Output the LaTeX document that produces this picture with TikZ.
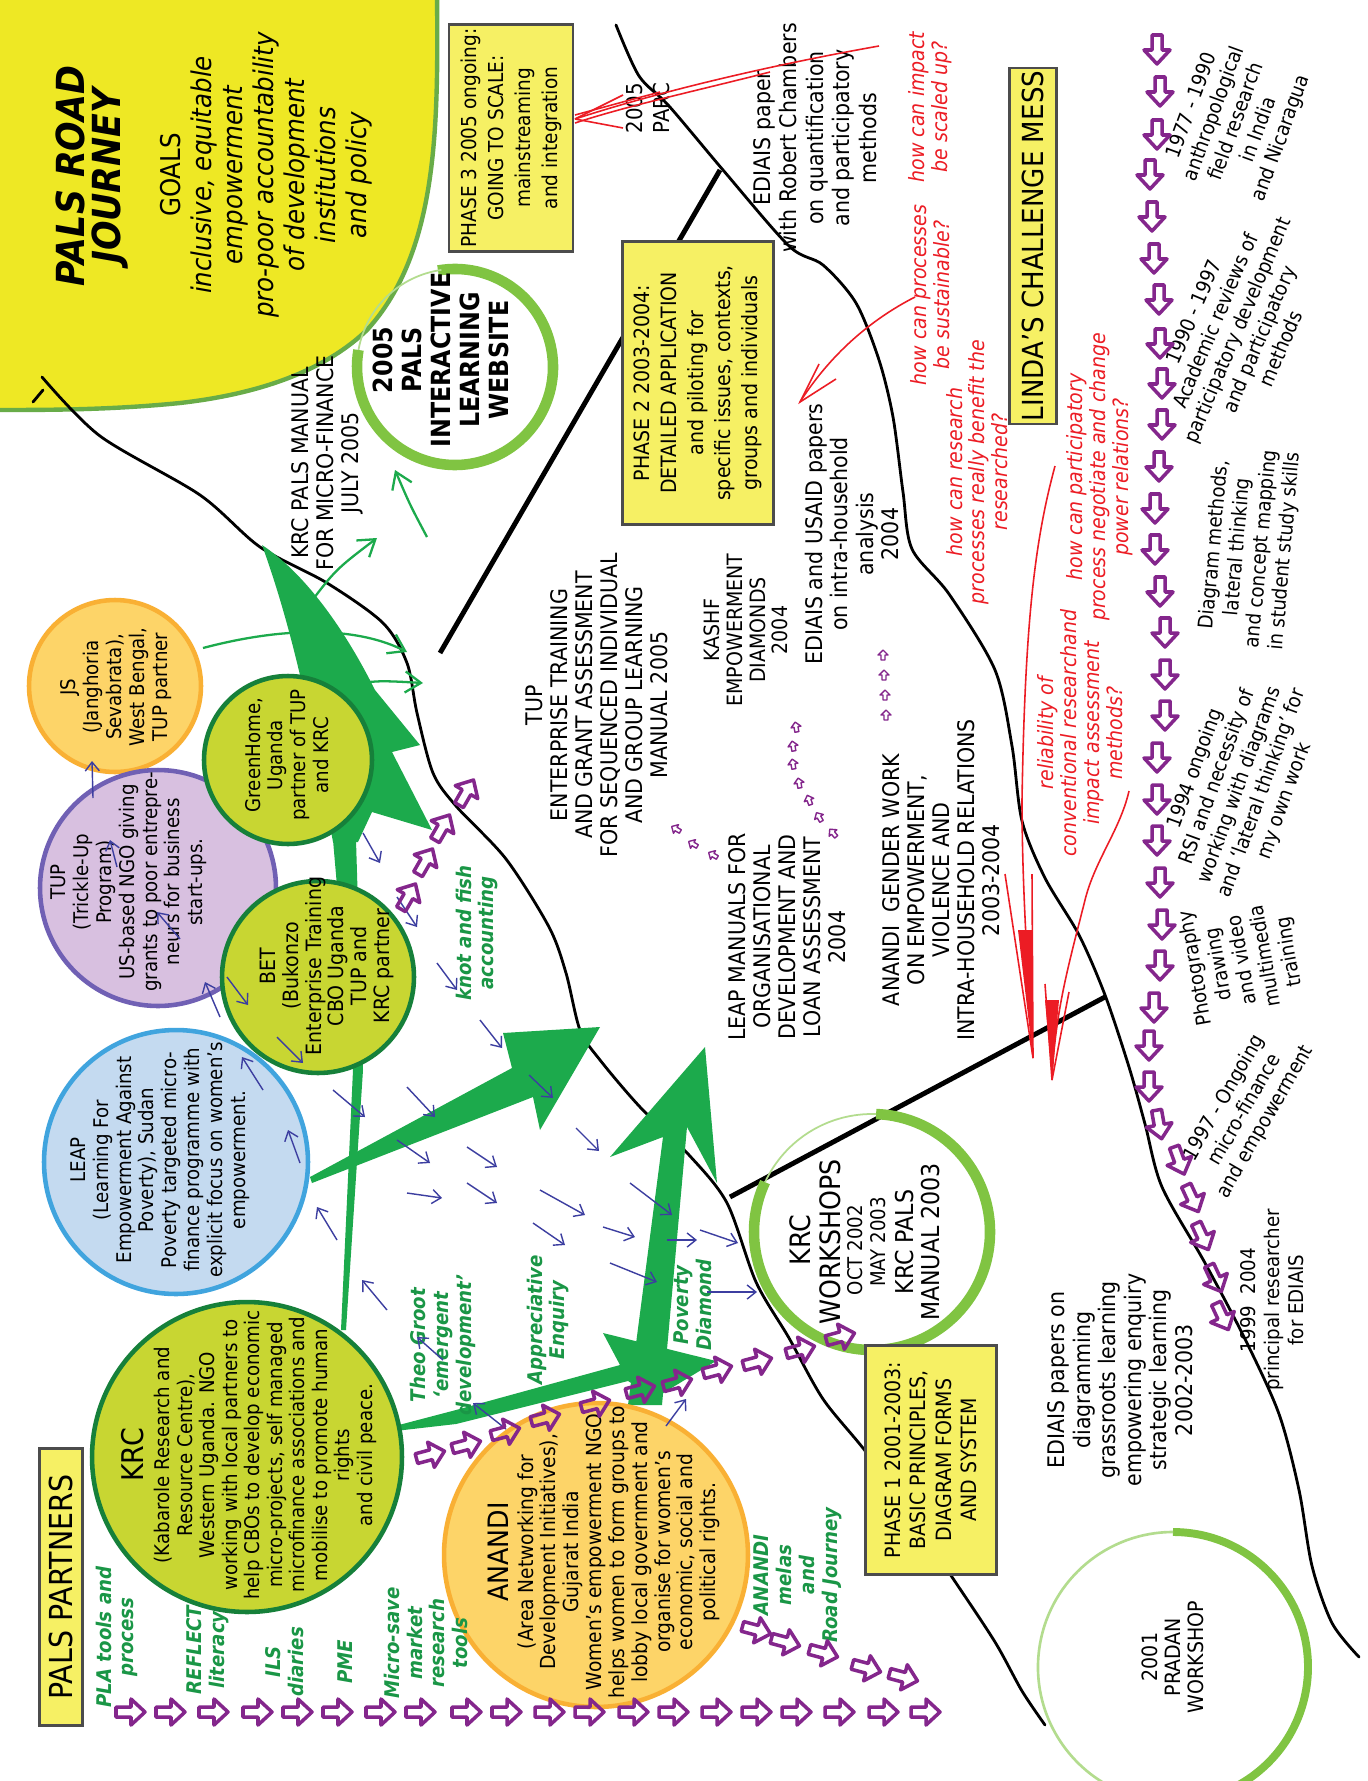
\documentclass[tikz,border=0pt]{standalone}
\usepackage{fontspec}
\setmainfont{DejaVu Sans}[FakeStretch=0.9]
\usetikzlibrary{arrows.meta,positioning}
\newcommand{\fsz}[2]{\fontsize{#1}{#2}\selectfont}
\definecolor{palsyellow}{RGB}{238,232,36}
\definecolor{boxyellow}{RGB}{246,240,100}
\definecolor{limefill}{RGB}{200,214,50}
\definecolor{darkrim}{RGB}{22,128,58}
\definecolor{orangefill}{RGB}{253,212,104}
\definecolor{orangerim}{RGB}{249,176,52}
\definecolor{lilacfill}{RGB}{216,192,224}
\definecolor{lilacrim}{RGB}{112,96,180}
\definecolor{skyfill}{RGB}{196,218,240}
\definecolor{skyrim}{RGB}{64,164,222}
\definecolor{arrowgreen}{RGB}{28,170,76}
\definecolor{ringgreen}{RGB}{128,196,66}
\definecolor{rimgreen}{RGB}{104,172,72}
\definecolor{journeypurple}{RGB}{132,38,140}
\definecolor{inkblue}{RGB}{60,62,160}
\definecolor{quesred}{RGB}{236,28,36}
\definecolor{labelgreen}{RGB}{26,150,70}

\begin{document}
\begin{tikzpicture}[x=0.02cm, y=-0.02cm,
    rot/.style={rotate=90, align=center, inner sep=0pt},
    txt/.style={rot, font=\fsz{13}{14.2}},
    tiltedtxt/.style={align=center, inner sep=0pt, font=\fsz{11.5}{13.5}},
    quest/.style={rot, text=quesred, font=\itshape\fsz{12}{13}},
    toollabel/.style={rot, text=labelgreen, font=\bfseries\itshape\fsz{11.5}{13}},
    circtext/.style={rot, font=\fsz{11.5}{13}},
    phasebox/.style={rot, draw=black!70, line width=1.2pt, fill=boxyellow},
    partner/.style={circle, line width=2.6pt, inner sep=0pt},
    road/.style={line width=1.6pt, line cap=round},
    roadbranch/.style={line width=2.8pt},
    thingreen/.style={draw=arrowgreen, line width=1.3pt, -{Straight Barb[length=9pt,width=12pt]}},
    inkarrow/.style={draw=inkblue, line width=0.8pt, -{Straight Barb[length=5pt,width=8pt]}},
    redline/.style={draw=quesred, line width=0.9pt},
    brushring/.style={draw=ringgreen, line width=6pt},
    faintring/.style={draw=ringgreen!60, line width=1pt},
    parr/.pic={\draw[journeypurple, line width=2pt, line join=round]
      (-14,-5) -- (1,-5) -- (1,-13) -- (15,0) -- (1,13) -- (1,5) -- (-14,5) -- cycle;},
    tparr/.pic={\draw[journeypurple, line width=0.8pt, line join=round]
      (-5,-2) -- (0,-2) -- (0,-5) -- (5,0) -- (0,5) -- (0,2) -- (-5,2) -- cycle;}
]
\useasboundingbox (0,0) rectangle (1368,1781);
\fill[white] (0,0) rectangle (1368,1781);
\clip (0,0) rectangle (1368,1781);

% goals blob
\filldraw[fill=palsyellow, draw=rimgreen, line width=2.5pt] (437,-10)
  .. controls (438,120) and (440,250) .. (367,330)
  .. controls (320,375) and (250,395) .. (180,403)
  .. controls (110,410) and (50,410) .. (-10,410) -- (-10,-10) -- cycle;

% the two roads
\draw[road] (33,402) -- (43,390);
\draw[road] plot[smooth] coordinates {(42,377) (100,436) (200,495) (260,547) (327,583) (383,623) (407,663) (417,713) (433,773) (456,806) (506,859) (549,927) (566,973) (580,1030) (600,1060) (640,1107) (689,1155) (727,1203) (756,1282) (789,1338) (823,1399) (866,1452) (910,1515) (952,1577) (995,1642) (1022,1691) (1045,1725)};
\draw[road] plot[smooth] coordinates {(616,25) (639,76) (669,106) (723,170) (789,246) (823,265) (856,303) (879,360) (893,417) (903,492) (912,549) (949,594) (995,670) (1012,746) (1022,821) (1045,878) (1079,935) (1105,995) (1129,1067) (1145,1124) (1162,1187) (1205,1263) (1245,1339) (1279,1414) (1299,1490) (1312,1566) (1332,1623) (1359,1657)};
\coordinate (fork2) at (720,170);
\coordinate (fork1) at (1105,997);
\coordinate (end2) at (440,653);
\coordinate (end1) at (730,1197);
\draw[roadbranch] (fork2) -- (end2);
\draw[roadbranch] (fork1) -- (end1);

% green arrows of the partners
\fill[arrowgreen] (262,545) .. controls (300,570) and (340,620) .. (375,690)
  -- (420,745) -- (392,752) -- (432,830) -- (372,812) -- (358,842) -- (333,842)
  .. controls (318,760) and (300,650) .. (262,545) -- cycle;
\fill[arrowgreen] (333,840) -- (356,840) -- (363,1070) -- (346,1330) -- (341,1330) -- (353,1070) -- cycle;
\fill[arrowgreen] (310,1177) -- (512,1068) -- (503,1033) -- (600,1027) -- (540,1130) -- (533,1097) -- (312,1183) -- cycle;
\fill[arrowgreen] (628,1405) -- (663,1137) -- (610,1157) -- (705,1047) -- (717,1183) -- (687,1127) -- (662,1405) -- cycle;
\fill[arrowgreen] (395,1426) -- (456,1410) -- (620,1365) -- (603,1333) -- (716,1361) -- (655,1398) -- (628,1381) -- (456,1424) -- (395,1431) -- cycle;
\draw[thingreen] (203,648) .. controls (290,625) and (360,628) .. (407,652);
\draw[thingreen] (330,692) .. controls (370,680) .. (423,683);
\draw[thingreen] (305,610) .. controls (335,570) .. (377,538);
\draw[thingreen] (427,537) .. controls (410,505) .. (395,470);

% partner circles
\node[partner, draw=orangerim, fill=orangefill, minimum size=3.44cm] (js) at (115,686) {};
\node[partner, draw=lilacrim, fill=lilacfill, minimum size=4.72cm] (tup) at (158,888) {};
\node[partner, draw=skyrim, fill=skyfill, minimum size=5.28cm] (leap) at (176,1162) {};
\node[partner, draw=darkrim, fill=limefill, minimum size=6.2cm] (krc) at (247,1457) {};
\node[partner, draw=darkrim, fill=limefill, minimum size=3.36cm] (greenhome) at (288,760) {};
\node[partner, draw=darkrim, fill=limefill, minimum size=3.84cm] (bet) at (318,977) {};
\node[partner, draw=orangerim, fill=orangefill, minimum size=6.08cm] (anandi) at (596,1555) {};

% workshop rings
\draw[brushring] (455,367) ++(-100:98) arc[start angle=-100, end angle=190, radius=98];
\draw[faintring] (455,367) ++(190:98) arc[start angle=190, end angle=262, radius=98];
\draw[brushring] (872,1232) ++(-88:118) arc[start angle=-88, end angle=205, radius=118];
\draw[faintring] (872,1232) ++(205:118) arc[start angle=205, end angle=272, radius=118];
\draw[brushring, line width=4.5pt] (1173,1667) ++(-90:135) arc[start angle=-90, end angle=100, radius=135];
\draw[faintring, line width=1.5pt] (1173,1667) ++(100:135) arc[start angle=100, end angle=270, radius=135];

% title and goals
\node[rot, font=\bfseries\itshape\fsz{22}{20.5}] (title) at (92,176) {PALS ROAD\\JOURNEY};
\node[rot, font=\itshape\fsz{15.5}{17.6}] (goals) at (266,175) {{\upshape GOALS}\\inclusive, equitable\\empowerment\\pro-poor accountability\\of development\\institutions\\and policy};
\node[rot, font=\bfseries\fsz{15}{16.5}] (website) at (441,360) {2005\\PALS\\INTERACTIVE\\LEARNING\\WEBSITE};
\node[txt] (krcmanual) at (327,463) {KRC PALS MANUAL\\FOR MICRO-FINANCE\\JULY 2005};

% phase boxes
\node[phasebox, minimum width=4.54cm, minimum height=2.48cm, font=\fsz{11.7}{15.4}] (phase3) at (511,138) {PHASE 3 2005 ongoing:\\GOING TO SCALE:\\mainstreaming\\and integration};
\node[phasebox, minimum width=5.66cm, minimum height=3.02cm, font=\fsz{12}{15.4}] (phase2) at (698,383) {PHASE 2 2003-2004:\\DETAILED APPLICATION\\and piloting for\\specific issues, contexts,\\groups and individuals};
\node[phasebox, minimum width=4.58cm, minimum height=2.62cm, font=\fsz{12}{14.5}] (phase1) at (931,1460) {PHASE 1 2001-2003:\\BASIC PRINCIPLES,\\DIAGRAM FORMS\\AND SYSTEM};
\node[phasebox, minimum width=7.12cm, minimum height=0.94cm, font=\fsz{16.5}{18}] (linda) at (1033,246) {LINDA'S CHALLENGE MESS};
\node[phasebox, minimum width=5.54cm, minimum height=0.86cm, font=\fsz{18}{20}] (partners) at (61,1587) {PALS PARTNERS};

% outputs along the road
\node[rot, font=\fsz{12.5}{15}] (parc) at (648,108) {2005\\PARC};
\node[txt, font=\fsz{13}{15}] (chambers) at (815,138) {EDIAIS paper\\with Robert Chambers\\on quantification\\and participatory\\methods};
\node[txt, font=\fsz{13}{14.5}] (usaid) at (852,534) {EDIAIS and USAID papers\\on intra-household\\analysis\\2004};
\node[txt] (tupmanual) at (597,705) {TUP\\ENTERPRISE TRAINING\\AND GRANT ASSESSMENT\\FOR SEQUENCED INDIVIDUAL\\AND GROUP LEARNING\\MANUAL 2005};
\node[txt, font=\fsz{12}{13}] (kashf) at (746,630) {KASHF\\EMPOWERMENT\\DIAMONDS\\2004};
\node[txt] (leapmanual) at (787,937) {LEAP MANUALS FOR\\ORGANISATIONAL\\DEVELOPMENT AND\\LOAN ASSESSMENT\\2004};
\node[txt] (gender) at (941,880) {ANANDI~~GENDER WORK\\ON EMPOWERMENT,\\VIOLENCE AND\\INTRA-HOUSEHOLD RELATIONS\\2003-2004};
\node[txt, font=\fsz{13}{14.5}] (diagpapers) at (1120,1380) {EDIAIS papers on\\diagramming\\grassroots learning\\empowering enquiry\\strategic learning\\2002-2003};
\node[rot, font=\fsz{12}{13}] (pradan) at (1173,1657) {2001\\PRADAN\\WORKSHOP};
\node[rot, font=\fsz{16}{17}] (kw1) at (800,1240) {KRC};
\node[rot, font=\fsz{16}{17}] (kw2) at (830,1242) {WORKSHOPS};
\node[rot, font=\fsz{11.5}{13}] (kw3) at (855,1250) {OCT 2002};
\node[rot, font=\fsz{11.5}{13}] (kw4) at (878,1242) {MAY 2003};
\node[rot, font=\fsz{14}{15}] (kw5) at (905,1242) {KRC PALS};
\node[rot, font=\fsz{14}{15}] (kw6) at (931,1242) {MANUAL 2003};

% questions
\node[quest] (q1) at (930,107) {how can impact\\be scaled up?};
\node[quest] (q2) at (930,295) {how can processes\\be sustainable?};
\node[quest] (q3) at (977,472) {how can research\\processes really benefit the\\researched?};
\node[quest] (q4) at (1100,477) {how can participatory\\process negotiate and change\\power relations?};
\node[quest] (q5) at (1080,733) {reliability of\\conventional researchand\\impact assessment\\methods?};

% Linda's timeline
\node[tiltedtxt, rotate=70] (t1) at (1237,122) {1977 - 1990\\anthropological\\field research\\in India\\and Nicaragua};
\node[tiltedtxt, rotate=67] (t2) at (1237,330) {1990 - 1997\\Academic reviews of\\participatory development\\and participatory\\methods};
\node[tiltedtxt, rotate=85] (t3) at (1250,548) {Diagram methods,\\lateral thinking\\and concept mapping\\in student study skills};
\node[tiltedtxt, rotate=70] (t4) at (1240,785) {1994 ongoing\\RSI and necessity of\\working with diagrams\\and `lateral thinking' for\\my own work};
\node[tiltedtxt, rotate=100] (t5) at (1243,960) {Photography\\drawing\\and video\\multimedia\\training};
\node[tiltedtxt, rotate=60] (t6) at (1245,1110) {1997 - Ongoing\\micro-finance\\and empowerment};
\node[tiltedtxt, rotate=90] (t7) at (1272,1300) {1999~~2004\\principal researcher\\for EDIAIS};

% partner texts
\node[circtext] (jst) at (116,687) {JS\\(Janghoria\\Sevabrata),\\West Bengal,\\TUP partner};
\node[circtext] (tupt) at (129,882) {TUP\\(Trickle-Up\\Program)\\US-based NGO giving\\grants to poor entrepre-\\neurs for business\\start-ups.};
\node[circtext] (leapt) at (160,1160) {LEAP\\(Learning For\\Empowerment Against\\Poverty), Sudan\\Poverty targeted micro-\\finance programme with\\explicit focus on women's\\empowerment.};
\node[circtext, font=\fsz{11.5}{12.8}] (krct) at (249,1455) {{\fsz{17}{19}KRC}\\[2pt](Kabarole Research and\\Resource Centre),\\Western Uganda. NGO\\working with local partners to\\help CBOs to develop economic\\micro-projects, self managed\\microfinance associations and\\mobilise to promote human\\rights\\and civil peace.};
\node[circtext] (greenhomet) at (287,755) {GreenHome,\\Uganda\\partner of TUP\\and KRC};
\node[circtext, font=\fsz{12}{13}] (bett) at (327,966) {BET\\(Bukonzo\\Enterprise Training\\CBO Uganda\\TUP and\\KRC partner};
\node[circtext, font=\fsz{11.8}{13}] (anandit) at (604,1552) {{\fsz{16}{18}ANANDI}\\[1pt](Area Networking for\\Development Initiatives),\\Gujarat India\\Women's empowerment NGO\\helps women to form groups to\\lobby local government and\\organise for women's\\economic, social and\\political rights.};

% tools
\node[toollabel] (pla) at (117,1637) {PLA tools and\\process};
\node[toollabel] (reflect) at (208,1650) {REFLECT\\literacy};
\node[toollabel] (ils) at (285,1662) {ILS\\diaries};
\node[toollabel] (pme) at (345,1662) {PME};
\node[toollabel] (microsave) at (426,1643) {Micro-save\\market\\research\\tools};
\node[toollabel] (knot) at (477,933) {knot and fish\\accounting};
\node[toollabel] (theo) at (443,1345) {Theo Groot\\`emergent\\development'};
\node[toollabel] (appreciative) at (548,1320) {Appreciative\\Enquiry};
\node[toollabel] (poverty) at (693,1305) {Poverty\\Diamond};
\node[toollabel] (melas) at (798,1575) {ANANDI\\melas\\and\\Road Journey};

% small blue arrows
\foreach \a/\b/\c/\d in {333/1090/365/1117, 407/1087/435/1117, 397/1140/430/1163, 407/1193/442/1198,
    467/1147/497/1167, 467/1183/497/1203, 337/1240/317/1207, 387/1310/362/1280, 263/1090/242/1057,
    300/1163/288/1130, 220/1017/205/982, 227/977/248/1005, 277/1037/303/1063, 437/963/457/990,
    480/1020/502/1048, 443/1360/417/1337, 363/833/380/863, 397/897/417/927, 93/798/92/761,
    529/1075/553/1098, 576/1128/599/1151, 540/1190/585/1215, 533/1223/565/1245, 603/1227/635/1237,
    630/1183/672/1215, 610/1263/657/1282, 667/1240/697/1240, 700/1230/738/1243, 707/1292/757/1292,
    506/1429/473/1403, 666/1426/686/1399, 117/867/110/840, 180/939/157/912}
  \draw[inkarrow] (\a,\b) -- (\c,\d);

% journey arrows
\foreach \x/\y/\r in {1157/49/-90, 1160/91/-90, 1157/134/-90, 1150/174/-90, 1152/216/-90,
    1154/258/-90, 1159/299/-90, 1160/343/-90, 1162/383/-90, 1162/424/-90, 1159/466/-90,
    1155/508/-90, 1155/549/-90, 1160/591/-90, 1165/632/-90, 1165/674/-90, 1165/715/-90,
    1157/757/-90, 1157/799/-90, 1157/840/-90, 1160/882/-90, 1162/924/-90, 1160/965/-90,
    1154/1007/-90, 1149/1045/-90, 1149/1086/-90, 1159/1124/-80, 1179/1160/-70,
    1192/1198/-65, 1202/1236/-65, 1215/1278/-65, 1222/1316/-65,
    430/1455/15, 466/1445/15, 505/1432/15, 545/1418/15, 595/1404/15, 640/1390/15,
    677/1383/15, 717/1370/15, 757/1362/15, 800/1350/15, 840/1337/15,
    756/1630/-15, 785/1642/-15, 823/1653/-15, 866/1668/-15, 903/1677/-15,
    408/897/60, 425/862/60, 442/828/60, 466/793/60}
  \pic[rotate=\r] at (\x,\y) {parr};
\foreach \x in {130,170,213,257,297,337,380,420,466,506,549,589,633,673,716,756,796,839,883,925}
  \pic at (\x,1712) {parr};
\foreach \x/\y/\r in {676/829/150, 693/844/150, 713/855/150,
    796/727/100, 793/746/100, 793/764/100, 799/783/100, 809/800/110, 819/817/120, 833/833/130,
    883/655/90, 884/675/90, 885/695/90, 886/715/90}
  \pic[rotate=\r] at (\x,\y) {tparr};

% red question arrows
\coordinate (scaleup) at (879,46);
\coordinate (ph3tip) at (575,119);
\draw[redline] (scaleup) .. controls (800,60) and (680,85) .. (ph3tip);
\draw[redline] (770,72) .. controls (700,90) and (630,105) .. (575,123);
\draw[redline] (660,92) .. controls (630,100) .. (575,115);
\draw[redline] (623,95) -- (ph3tip);
\draw[redline] (623,128) -- (ph3tip);
\coordinate (sustain) at (915,297);
\coordinate (usaidtip) at (800,402);
\draw[redline] (sustain) .. controls (870,320) and (830,355) .. (usaidtip);
\draw[redline] (819,364) -- (usaidtip) -- (836,379);
\coordinate (qa) at (1055,466);
\coordinate (tipa) at (1033,1058);
\draw[redline] (qa) .. controls (1035,540) and (1025,620) .. (1022,800) .. controls (1022,900) and (1030,1000) .. (tipa);
\draw[redline] (1005,874) -- (tipa);
\draw[redline] (1032,874) -- (tipa);
\fill[quesred] (1018,930) -- (tipa) -- (1032,930) -- cycle;
\coordinate (qb) at (1129,791);
\coordinate (tipb) at (1052,1080);
\draw[redline] (qb) .. controls (1120,830) and (1095,860) .. (1085,900) .. controls (1070,960) and (1055,1010) .. (tipb);
\draw[redline] (1045,984) -- (tipb);
\draw[redline] (1069,992) -- (tipb);
\fill[quesred] (1045,1000) -- (tipb) -- (1059,1000) -- cycle;
\end{tikzpicture}
\end{document}
